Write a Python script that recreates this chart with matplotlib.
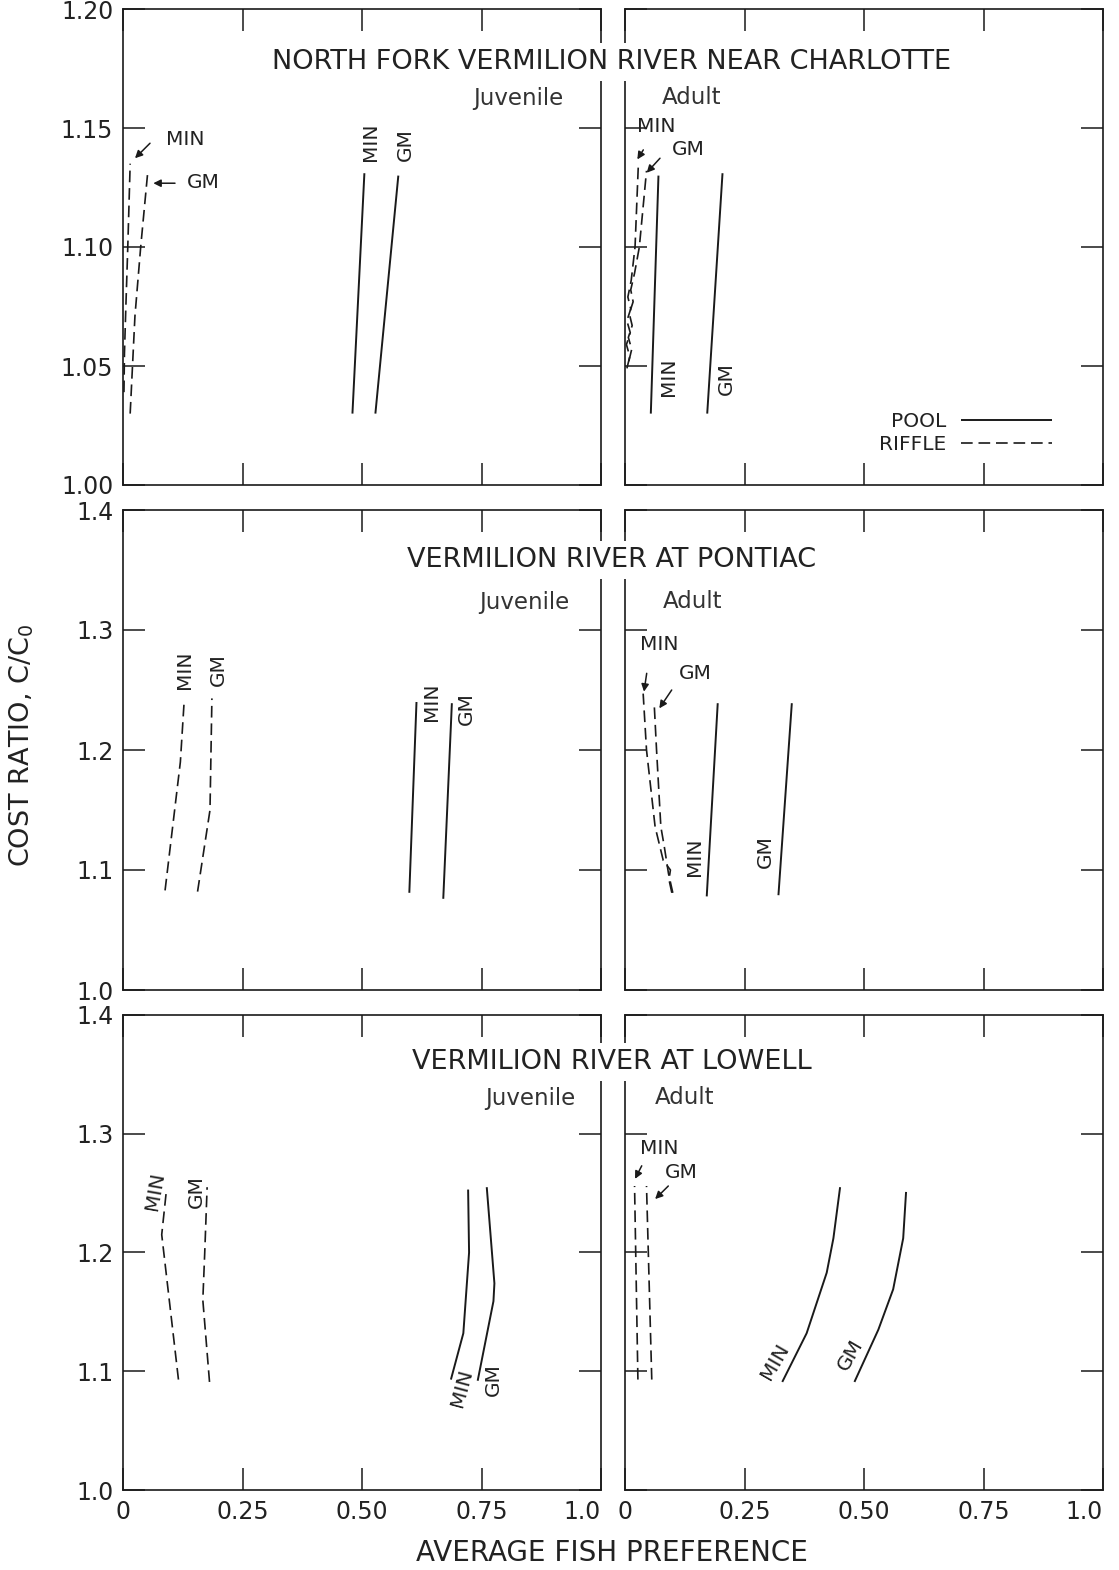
import matplotlib
matplotlib.use("Agg")
import matplotlib.pyplot as plt
from matplotlib.lines import Line2D

# ---------------- data ----------------
# North Fork Vermilion River near Charlotte -- juvenile
ch_juv_pool_min_x = [0.480, 0.505]
ch_juv_pool_min_y = [1.030, 1.131]
ch_juv_pool_gm_x = [0.528, 0.576]
ch_juv_pool_gm_y = [1.030, 1.130]
ch_juv_riffle_min_x = [0.002, 0.003, 0.006, 0.010, 0.015]
ch_juv_riffle_min_y = [1.039, 1.055, 1.075, 1.100, 1.135]
ch_juv_riffle_gm_x = [0.015, 0.025, 0.037, 0.052]
ch_juv_riffle_gm_y = [1.030, 1.071, 1.100, 1.132]

# North Fork Vermilion River near Charlotte -- adult
ch_ad_pool_min_x = [0.054, 0.070]
ch_ad_pool_min_y = [1.030, 1.130]
ch_ad_pool_gm_x = [0.172, 0.204]
ch_ad_pool_gm_y = [1.030, 1.131]
ch_ad_riffle_min_x = [0.004, 0.010, 0.003, 0.011, 0.004, 0.012, 0.006, 0.013, 0.021, 0.028]
ch_ad_riffle_min_y = [1.049, 1.054, 1.059, 1.064, 1.069, 1.074, 1.079, 1.086, 1.100, 1.135]
ch_ad_riffle_gm_x = [0.008, 0.014, 0.007, 0.015, 0.009, 0.017, 0.012, 0.020, 0.030, 0.045]
ch_ad_riffle_gm_y = [1.052, 1.057, 1.062, 1.067, 1.072, 1.077, 1.082, 1.089, 1.100, 1.132]

# Vermilion River at Pontiac -- juvenile
po_juv_pool_min_x = [0.599, 0.614]
po_juv_pool_min_y = [1.081, 1.240]
po_juv_pool_gm_x = [0.670, 0.688]
po_juv_pool_gm_y = [1.076, 1.239]
po_juv_riffle_min_x = [0.088, 0.120, 0.128]
po_juv_riffle_min_y = [1.083, 1.190, 1.241]
po_juv_riffle_gm_x = [0.156, 0.182, 0.186]
po_juv_riffle_gm_y = [1.082, 1.150, 1.243]

# Vermilion River at Pontiac -- adult
po_ad_pool_min_x = [0.171, 0.194]
po_ad_pool_min_y = [1.078, 1.239]
po_ad_pool_gm_x = [0.321, 0.349]
po_ad_pool_gm_y = [1.079, 1.239]
po_ad_riffle_min_x = [0.098, 0.092, 0.095, 0.080, 0.063, 0.045, 0.038]
po_ad_riffle_min_y = [1.081, 1.092, 1.100, 1.108, 1.136, 1.200, 1.247]
po_ad_riffle_gm_x = [0.100, 0.091, 0.082, 0.075, 0.066, 0.061]
po_ad_riffle_gm_y = [1.081, 1.097, 1.120, 1.136, 1.200, 1.239]

# Vermilion River at Lowell -- juvenile
lo_juv_pool_min_x = [0.686, 0.712, 0.724, 0.722]
lo_juv_pool_min_y = [1.093, 1.132, 1.200, 1.253]
lo_juv_pool_gm_x = [0.742, 0.775, 0.777, 0.761]
lo_juv_pool_gm_y = [1.092, 1.159, 1.174, 1.255]
lo_juv_riffle_min_x = [0.116, 0.081, 0.091]
lo_juv_riffle_min_y = [1.093, 1.215, 1.253]
lo_juv_riffle_gm_x = [0.181, 0.167, 0.171, 0.176]
lo_juv_riffle_gm_y = [1.091, 1.160, 1.200, 1.255]

# Vermilion River at Lowell -- adult
lo_ad_pool_min_x = [0.329, 0.380, 0.422, 0.436, 0.450]
lo_ad_pool_min_y = [1.091, 1.132, 1.183, 1.212, 1.255]
lo_ad_pool_gm_x = [0.480, 0.530, 0.561, 0.582, 0.588]
lo_ad_pool_gm_y = [1.091, 1.135, 1.169, 1.212, 1.251]
lo_ad_riffle_min_x = [0.027, 0.020]
lo_ad_riffle_min_y = [1.093, 1.256]
lo_ad_riffle_gm_x = [0.056, 0.045]
lo_ad_riffle_gm_y = [1.093, 1.256]

x_ticks = [0, 0.25, 0.5, 0.75, 1.0]
x_tick_labels = ["0", "0.25", "0.50", "0.75", "1.0"]
top_y_ticks = [1.00, 1.05, 1.10, 1.15, 1.20]
top_y_tick_labels = ["1.00", "1.05", "1.10", "1.15", "1.20"]
low_y_ticks = [1.0, 1.1, 1.2, 1.3, 1.4]
low_y_tick_labels = ["1.0", "1.1", "1.2", "1.3", "1.4"]

site_titles = ["NORTH FORK VERMILION RIVER NEAR CHARLOTTE",
               "VERMILION RIVER AT PONTIAC",
               "VERMILION RIVER AT LOWELL"]

# ---------------- styling ----------------
INK = "#1a1a1a"
TXT = "#222222"
plt.rcParams["font.family"] = ["DejaVu Sans"]
plt.rcParams["text.color"] = TXT

W, H = 1119, 1570
fig = plt.figure(figsize=(W / 100, H / 100), dpi=100)


def fx(px):
    return px / W


def fy(py):
    return 1 - py / H


col_left = [123, 625]
col_width = 478
row_span = [(9, 485), (510, 990), (1015, 1490)]

POOL = dict(color=INK, lw=1.4, solid_capstyle="butt")
RIFFLE = dict(color=INK, lw=1.2, linestyle=(0, (7, 3.5)))
LBL = dict(fontsize=14.5, color=TXT, ha="center", va="center")


def make_axes(r, c):
    top, bot = row_span[r]
    ax = fig.add_axes([fx(col_left[c]), fy(bot), fx(col_width), (bot - top) / H])
    ax.set_xlim(0, 1)
    if r == 0:
        ax.set_ylim(1.0, 1.2)
        ax.set_yticks(top_y_ticks)
        ax.set_yticklabels(top_y_tick_labels)
    else:
        ax.set_ylim(1.0, 1.4)
        ax.set_yticks(low_y_ticks)
        ax.set_yticklabels(low_y_tick_labels)
    ax.set_xticks(x_ticks)
    labs = ax.set_xticklabels(x_tick_labels)
    labs[-1].set_ha("right")
    ax.tick_params(direction="in", length=15.5, width=1.1, color=INK,
                   top=True, right=True, labelsize=17, pad=7,
                   labelcolor=TXT)
    ax.tick_params(axis="x", labelbottom=(r == 2))
    ax.tick_params(axis="y", labelleft=(c == 0))
    for s in ax.spines.values():
        s.set_linewidth(1.2)
        s.set_color(INK)
    return ax


def rot_label(ax, x, y, s, rot=90):
    ax.text(x, y, s, rotation=rot, rotation_mode="anchor", **LBL)


def arrow_label(ax, s, txy, tail, head):
    ax.text(txy[0], txy[1], s, **LBL)
    ax.annotate("", xy=head, xytext=tail,
                arrowprops=dict(arrowstyle="-|>", color=INK, lw=1.1,
                                mutation_scale=11, shrinkA=0, shrinkB=0))


axes = [[make_axes(r, c) for c in range(2)] for r in range(3)]

# ---- Charlotte, juvenile ----
ax = axes[0][0]
ax.plot(ch_juv_pool_min_x, ch_juv_pool_min_y, **POOL)
ax.plot(ch_juv_pool_gm_x, ch_juv_pool_gm_y, **POOL)
ax.plot(ch_juv_riffle_min_x, ch_juv_riffle_min_y, **RIFFLE)
ax.plot(ch_juv_riffle_gm_x, ch_juv_riffle_gm_y, **RIFFLE)
rot_label(ax, 0.517, 1.1443, "MIN")
rot_label(ax, 0.590, 1.1429, "GM")
arrow_label(ax, "MIN", (0.13, 1.145), (0.0565, 1.1436), (0.0251, 1.1373))
arrow_label(ax, "GM", (0.167, 1.127), (0.1088, 1.1268), (0.0634, 1.1268))

# ---- Charlotte, adult ----
ax = axes[0][1]
ax.plot(ch_ad_pool_min_x, ch_ad_pool_min_y, **POOL)
ax.plot(ch_ad_pool_gm_x, ch_ad_pool_gm_y, **POOL)
ax.plot(ch_ad_riffle_min_x, ch_ad_riffle_min_y, **RIFFLE)
ax.plot(ch_ad_riffle_gm_x, ch_ad_riffle_gm_y, **RIFFLE)
rot_label(ax, 0.0906, 1.0455, "MIN")
rot_label(ax, 0.2113, 1.0448, "GM")
arrow_label(ax, "MIN", (0.065, 1.1508), (0.0383, 1.1408), (0.0258, 1.1368))
arrow_label(ax, "GM", (0.1318, 1.1408), (0.0732, 1.1373), (0.0454, 1.1312))
ax.legend([Line2D([], [], **POOL), Line2D([], [], **RIFFLE)], ["POOL", "RIFFLE"],
          markerfirst=False, frameon=False, loc="lower right",
          bbox_to_anchor=(0.893, 0.066), borderpad=0, borderaxespad=0,
          handlelength=4.5, handletextpad=0.75, labelspacing=0.2,
          prop=dict(size=14.5), labelcolor=TXT)

# ---- Pontiac, juvenile ----
ax = axes[1][0]
ax.plot(po_juv_pool_min_x, po_juv_pool_min_y, **POOL)
ax.plot(po_juv_pool_gm_x, po_juv_pool_gm_y, **POOL)
ax.plot(po_juv_riffle_min_x, po_juv_riffle_min_y, **RIFFLE)
ax.plot(po_juv_riffle_gm_x, po_juv_riffle_gm_y, **RIFFLE)
rot_label(ax, 0.1297, 1.2667, "MIN")
rot_label(ax, 0.1994, 1.2667, "GM")
rot_label(ax, 0.6458, 1.2403, "MIN")
rot_label(ax, 0.719, 1.2347, "GM")

# ---- Pontiac, adult ----
ax = axes[1][1]
ax.plot(po_ad_pool_min_x, po_ad_pool_min_y, **POOL)
ax.plot(po_ad_pool_gm_x, po_ad_pool_gm_y, **POOL)
ax.plot(po_ad_riffle_min_x, po_ad_riffle_min_y, **RIFFLE)
ax.plot(po_ad_riffle_gm_x, po_ad_riffle_gm_y, **RIFFLE)
rot_label(ax, 0.1464, 1.1111, "MIN")
rot_label(ax, 0.2929, 1.1153, "GM")
arrow_label(ax, "MIN", (0.0711, 1.2875), (0.0454, 1.2639), (0.0397, 1.2486))
arrow_label(ax, "GM", (0.147, 1.2639), (0.0977, 1.25), (0.0718, 1.2347))

# ---- Lowell, juvenile ----
ax = axes[2][0]
ax.plot(lo_juv_pool_min_x, lo_juv_pool_min_y, **POOL)
ax.plot(lo_juv_pool_gm_x, lo_juv_pool_gm_y, **POOL)
ax.plot(lo_juv_riffle_min_x, lo_juv_riffle_min_y, **RIFFLE)
ax.plot(lo_juv_riffle_gm_x, lo_juv_riffle_gm_y, **RIFFLE)
rot_label(ax, 0.067, 1.252, "MIN", 80)
rot_label(ax, 0.154, 1.251, "GM")
rot_label(ax, 0.7085, 1.086, "MIN", 75)
rot_label(ax, 0.775, 1.093, "GM")

# ---- Lowell, adult ----
ax = axes[2][1]
ax.plot(lo_ad_pool_min_x, lo_ad_pool_min_y, **POOL)
ax.plot(lo_ad_pool_gm_x, lo_ad_pool_gm_y, **POOL)
ax.plot(lo_ad_riffle_min_x, lo_ad_riffle_min_y, **RIFFLE)
ax.plot(lo_ad_riffle_gm_x, lo_ad_riffle_gm_y, **RIFFLE)
rot_label(ax, 0.314, 1.108, "MIN", 60)
rot_label(ax, 0.472, 1.1135, "GM", 60)
arrow_label(ax, "MIN", (0.0722, 1.2872), (0.035, 1.273), (0.021, 1.262))
arrow_label(ax, "GM", (0.1186, 1.267), (0.0906, 1.256), (0.063, 1.245))

# ---- site titles and life-stage captions ----
title_y = [62, 560, 1062]
stage_pos = [((518, 98), (692, 98)), ((524, 602), (693, 602)), ((530, 1098), (685, 1098))]
for r in range(3):
    fig.text(fx(612), fy(title_y[r]), site_titles[r], fontsize=19.5, color=TXT,
             ha="center", va="center", zorder=10,
             bbox=dict(facecolor="white", edgecolor="none", pad=4))
    (jx, jy), (ax_, ay) = stage_pos[r]
    fig.text(fx(jx), fy(jy), "Juvenile", fontsize=16.5, color="#333333",
             ha="center", va="center")
    fig.text(fx(ax_), fy(ay), "Adult", fontsize=16.5, color="#333333",
             ha="center", va="center")

fig.text(fx(612), fy(1553), "AVERAGE FISH PREFERENCE", fontsize=20, color=TXT,
         ha="center", va="center")
fig.text(fx(22), fy(745), r"COST RATIO, C/C$_\mathregular{0}$", fontsize=19.5,
         color=TXT, ha="center", va="center", rotation=90)

fig.savefig("out.png", dpi=100, facecolor="white")
